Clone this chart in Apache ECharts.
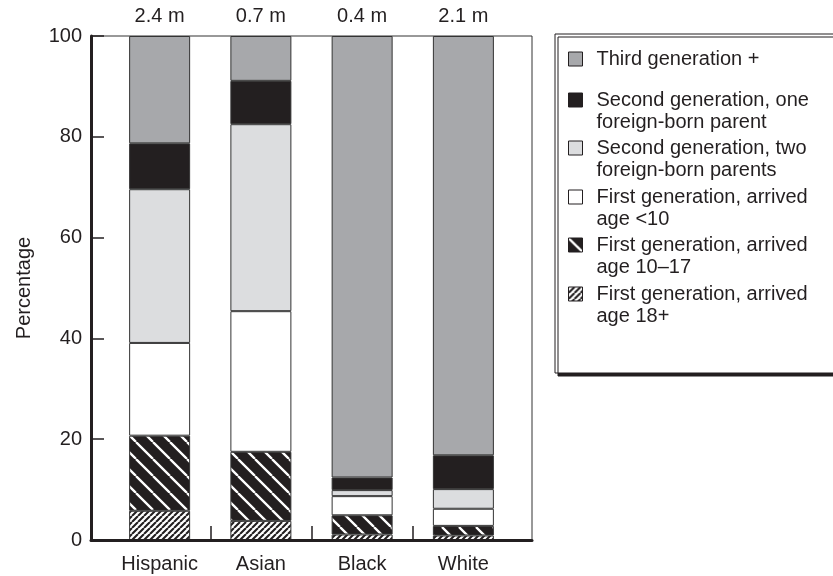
<!DOCTYPE html>
<html>
<head>
<meta charset="utf-8">
<title>Generation by race</title>
<script src="https://cdn.jsdelivr.net/npm/echarts@6.0.0/dist/echarts.min.js"></script>
<style>
	html, body { margin: 0; padding: 0; background: #fff; }
	#main { width: 833px; height: 576px; }
</style>
</head>
<body>
<div id="main"></div>
<script>
	// 数据
	var categories = ['Hispanic', 'Asian', 'Black', 'White'];
	var totals = ['2.4 m', '0.7 m', '0.4 m', '2.1 m'];
	var yTicks = [0, 20, 40, 60, 80, 100];
	var age18 = [5.8, 3.8, 1.1, 0.9];
	var age1017 = [14.9, 13.7, 3.8, 1.9];
	var ageUnder10 = [18.4, 27.9, 3.8, 3.4];
	var secondTwo = [30.5, 37.1, 1.2, 3.9];
	var secondOne = [9.1, 8.6, 2.5, 6.7];
	var third = [21.3, 8.9, 87.6, 83.2];
	var names = [
		'First generation, arrived\nage 18+',
		'First generation, arrived\nage 10\u201317',
		'First generation, arrived\nage <10',
		'Second generation, two\nforeign-born parents',
		'Second generation, one\nforeign-born parent',
		'Third generation +'
	];

	var ink = '#231f20';
	var font = "'Liberation Sans', Arial, sans-serif";

	// 斜线填充
	function stripes(size, lineW, bg, fg, dir) {
		var c = document.createElement('canvas');
		c.width = size;
		c.height = size;
		var ctx = c.getContext('2d');
		ctx.fillStyle = bg;
		ctx.fillRect(0, 0, size, size);
		ctx.strokeStyle = fg;
		ctx.lineWidth = lineW;
		ctx.beginPath();
		for(var k = -1; k <= 1; k++) {
			if(dir == 'back') {
				ctx.moveTo(k * size, 0);
				ctx.lineTo(k * size + size, size);
			} else {
				ctx.moveTo(k * size, size);
				ctx.lineTo(k * size + size, 0);
			}
		}
		ctx.stroke();
		return c;
	}

	var fills = [
		{ image: stripes(6, 2.1, '#fff', ink, 'fwd'), repeat: 'repeat' },
		{ image: stripes(17, 2.3, ink, '#fff', 'back'), repeat: 'repeat' },
		'#ffffff',
		'#dcdddf',
		ink,
		'#a7a8ab'
	];
	var values = [age18, age1017, ageUnder10, secondTwo, secondOne, third];

	var series = [];
	for(var i = 0; i < values.length; i++) {
		var s = {
			name: names[i],
			type: 'bar',
			stack: 'all',
			xAxisIndex: 1,
			yAxisIndex: 1,
			barWidth: 61,
			data: values[i],
			itemStyle: {
				color: fills[i],
				borderColor: '#333',
				borderWidth: 1
			}
		};
		if(i == values.length - 1) {
			s.label = {
				show: true,
				position: 'top',
				distance: 10,
				fontFamily: font,
				fontSize: 20,
				color: ink,
				formatter: function(p) {
					return totals[p.dataIndex];
				}
			};
		}
		series.push(s);
	}

	// 图例，从上到下（两行的加一个空行，让图标对齐第一行）
	var legendTops = [48, 67, 115, 164, 212, 261];
	var legends = [];
	for(var j = 0; j < names.length; j++) {
		var nm = names[names.length - 1 - j];
		legends.push({
			left: 568,
			top: legendTops[j],
			padding: 0,
			z: 10,
			icon: 'rect',
			itemWidth: 14,
			itemHeight: 14,
			selectedMode: false,
			itemStyle: { borderColor: ink, borderWidth: 1 },
			data: [nm],
			formatter: function(name) {
				return name.indexOf('\n') > -1 ? ' \n' + name : name;
			},
			textStyle: {
				fontFamily: font,
				fontSize: 20,
				lineHeight: 22,
				color: ink,
				padding: [0, 0, 0, 9]
			}
		});
	}

	var chart = echarts.init(document.getElementById('main'), null, { renderer: 'canvas' });
	var option = {
		animation: false,
		backgroundColor: '#fff',
		textStyle: { fontFamily: font },
		graphic: [{
			type: 'rect',
			z: 0,
			shape: { x: 555, y: 34, width: 300, height: 339 },
			style: {
				fill: '#fff',
				stroke: ink,
				lineWidth: 1,
				shadowColor: ink,
				shadowOffsetX: 3,
				shadowOffsetY: 3,
				shadowBlur: 0
			}
		}],
		legend: legends,
		grid: [{
			left: 91,
			right: 301,
			top: 36,
			bottom: 36,
			show: true,
			borderColor: '#333',
			borderWidth: 1
		}, {
			left: 109,
			right: 319,
			top: 36,
			bottom: 36
		}],
		xAxis: [{
			gridIndex: 0,
			type: 'value',
			min: -0.68,
			max: 3.68,
			z: 5,
			axisLine: { onZero: false, lineStyle: { color: ink, width: 3 } },
			axisTick: {
				show: true,
				inside: true,
				length: 14,
				customValues: categories.slice(1).map(function(c, k) { return k + 0.5; }),
				lineStyle: { color: ink, width: 1.5 }
			},
			axisLabel: { show: false },
			splitLine: { show: false }
		}, {
			gridIndex: 1,
			type: 'category',
			data: categories,
			axisLine: { show: false },
			axisTick: { show: false },
			axisLabel: {
				fontFamily: font,
				fontSize: 20,
				color: ink,
				margin: 14
			}
		}],
		yAxis: [{
			gridIndex: 0,
			type: 'value',
			min: 0,
			max: 100,
			interval: 20,
			z: 5,
			name: 'Percentage',
			nameLocation: 'middle',
			nameGap: 57,
			nameTextStyle: { fontFamily: font, fontSize: 20, color: ink },
			axisLine: { show: true, onZero: false, lineStyle: { color: ink, width: 3 } },
			axisTick: { show: true, inside: true, length: 13, lineStyle: { color: ink, width: 1.5 } },
			axisLabel: {
				fontFamily: font,
				fontSize: 20,
				color: ink,
				margin: 9,
				formatter: function(v) {
					return yTicks.indexOf(v) > -1 ? String(v) : '';
				}
			},
			splitLine: { show: false }
		}, {
			gridIndex: 1,
			type: 'value',
			min: 0,
			max: 100,
			show: false
		}],
		series: series
	};
	chart.setOption(option);
</script>
</body>
</html>
